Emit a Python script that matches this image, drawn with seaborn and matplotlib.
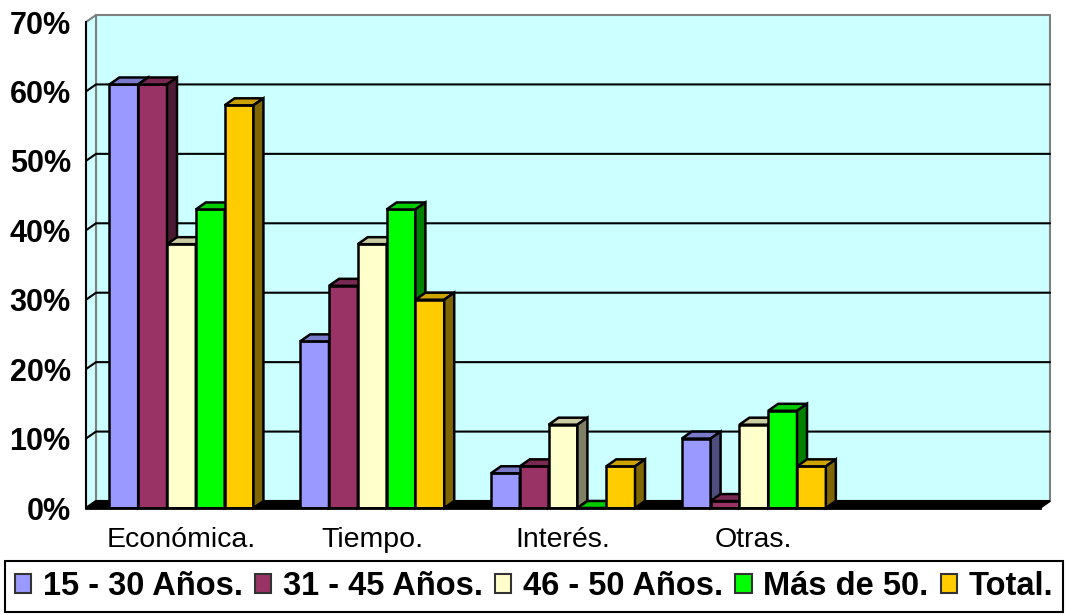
import numpy as np
import pandas as pd
import matplotlib
matplotlib.use("Agg")
import matplotlib.pyplot as plt
from matplotlib.patches import Polygon
from matplotlib.colors import to_rgb
import seaborn as sns

# ---- data -------------------------------------------------------------
categories = ["Económica.", "Tiempo.", "Interés.", "Otras."]
groups = ["15 - 30 Años.", "31 - 45 Años.", "46 - 50 Años.", "Más de 50.", "Total."]
age_15_30 = [61, 24, 5, 10]
age_31_45 = [61, 32, 6, 1]
age_46_50 = [38, 38, 12, 12]
over_50 = [43, 43, 0, 14]
total = [58, 30, 6, 6]
colors = ["#9999FF", "#993366", "#FFFFCC", "#00FF00", "#FFCC00"]
y_ticks = [0, 10, 20, 30, 40, 50, 60, 70]
y_tick_labels = [f"{v}%" for v in y_ticks]

series = [age_15_30, age_31_45, age_46_50, over_50, total]
df = pd.DataFrame(
    [(c, g, v) for g, vals in zip(groups, series) for c, v in zip(categories, vals)],
    columns=["motivo", "grupo", "pct"],
)

# ---- style ------------------------------------------------------------
sns.set_style("white")
plt.rcParams["font.family"] = ["Liberation Sans", "DejaVu Sans"]
for key in ["text.color", "xtick.color", "ytick.color", "xtick.labelcolor",
            "ytick.labelcolor", "axes.labelcolor"]:
    plt.rcParams[key] = "black"

W, H, DPI = 1067, 615, 100
fig = plt.figure(figsize=(W / DPI, H / DPI), dpi=DPI)
# front plane of the 3-D box, in pixels
left_px, right_px, top_px, base_px = 86, 1040, 22, 508
ax = fig.add_axes([left_px / W, (H - base_px) / H,
                   (right_px - left_px) / W, (base_px - top_px) / H])
ax.patch.set_alpha(0)

sns.barplot(data=df, x="motivo", y="pct", hue="grupo", order=categories,
            hue_order=groups, palette=colors, width=0.755, errorbar=None,
            edgecolor="black", linewidth=1.8, saturation=1, ax=ax)
handles = ax.get_legend().legend_handles
ax.get_legend().remove()

n_slots = 5
ax.set_xlim(-0.5, n_slots - 0.5)
ax.set_ylim(0, 70)

# depth of the 3-D effect in pixels (right, up)
DX, DY = 10, 7
inv = ax.transData.inverted()


def back(x, y):
    px = ax.transData.transform((x, y))
    return tuple(inv.transform((px[0] + DX, px[1] + DY)))


x0, x1 = -0.5, n_slots - 0.5
wall = "#CCFFFF"
grey = "#808080"

# back wall
ax.add_patch(Polygon([back(x0, 0), back(x1, 0), back(x1, 70), back(x0, 70)],
                     closed=True, facecolor=wall, edgecolor=grey, lw=1.5,
                     zorder=0.5, clip_on=False))
# left wall
ax.add_patch(Polygon([(x0, 0), (x0, 70), back(x0, 70), back(x0, 0)],
                     closed=True, facecolor=wall, edgecolor=grey, lw=1.5,
                     zorder=0.6, clip_on=False))
# floor
ax.add_patch(Polygon([(x0, 0), (x1, 0), back(x1, 0), back(x0, 0)],
                     closed=True, facecolor="black", edgecolor="black", lw=1.5,
                     zorder=0.7, clip_on=False))
# gridlines on the walls
for v in y_ticks[1:-1]:
    p0, p1, p2 = (x0, v), back(x0, v), back(x1, v)
    ax.plot([p0[0], p1[0], p2[0]], [p0[1], p1[1], p2[1]], color="black",
            lw=1.5, zorder=0.8, clip_on=False)

# 3-D faces for every bar, drawn left to right so neighbours overlap
bars = []
for bar_container, col in zip(ax.containers, colors):
    for p in bar_container:
        bars.append((p, col))
bars.sort(key=lambda item: item[0].get_x())
for i, (p, c) in enumerate(bars):
    z = 3 + i * 0.01
    p.set_zorder(z)
    col = np.array(to_rgb(c))
    bx0, bx1, h = p.get_x(), p.get_x() + p.get_width(), p.get_height()
    top = Polygon([(bx0, h), (bx1, h), back(bx1, h), back(bx0, h)], closed=True,
                  facecolor=col * 0.8, edgecolor="black", lw=1.8,
                  zorder=z + 0.005, clip_on=False)
    side = Polygon([(bx1, 0), (bx1, h), back(bx1, h), back(bx1, 0)], closed=True,
                   facecolor=col * 0.5, edgecolor="black", lw=1.8,
                   zorder=z + 0.005, clip_on=False)
    ax.add_patch(top)
    ax.add_patch(side)

# ---- axes -------------------------------------------------------------
for s in ["top", "right"]:
    ax.spines[s].set_visible(False)
ax.spines["left"].set_color("black")
ax.spines["left"].set_linewidth(1.5)
ax.spines["left"].set_zorder(1)
ax.spines["bottom"].set_color("black")
ax.spines["bottom"].set_linewidth(2)
ax.spines["bottom"].set_zorder(10)

ax.set_yticks(y_ticks, labels=y_tick_labels)
ax.tick_params(axis="y", direction="out", length=9, width=1.5, color="black",
               labelcolor="black", labelsize=22, pad=2)
for t in ax.get_yticklabels():
    t.set_fontweight("bold")

ax.set_xticks(np.arange(-0.5, n_slots, 1.0), labels=[""] * (n_slots + 1))
ax.set_xticks(range(len(categories)), labels=categories, minor=True)
ax.tick_params(axis="x", which="major", direction="out", length=8, width=1.5,
               color="black")
ax.tick_params(axis="x", which="minor", length=0, labelsize=20.5, pad=14,
               labelcolor="black")
ax.set_xlabel("")
ax.set_ylabel("")
ax.grid(False)

# ---- legend -----------------------------------------------------------
leg = fig.legend(handles, groups, loc="lower left",
                 bbox_to_anchor=(5 / W, 3 / H, 1058 / W, 47 / H), mode="expand",
                 ncol=5, frameon=True, fancybox=False, edgecolor="black",
                 prop={"weight": "bold", "size": 23.5}, handlelength=0.5,
                 handleheight=0.5, handletextpad=0.35, borderpad=0.3,
                 borderaxespad=0, framealpha=1, labelcolor="black")
leg.get_frame().set_linewidth(1.5)
for h in leg.legend_handles:
    h.set_edgecolor("#333333")
    h.set_linewidth(1.5)

fig.savefig("out.png", dpi=DPI)
